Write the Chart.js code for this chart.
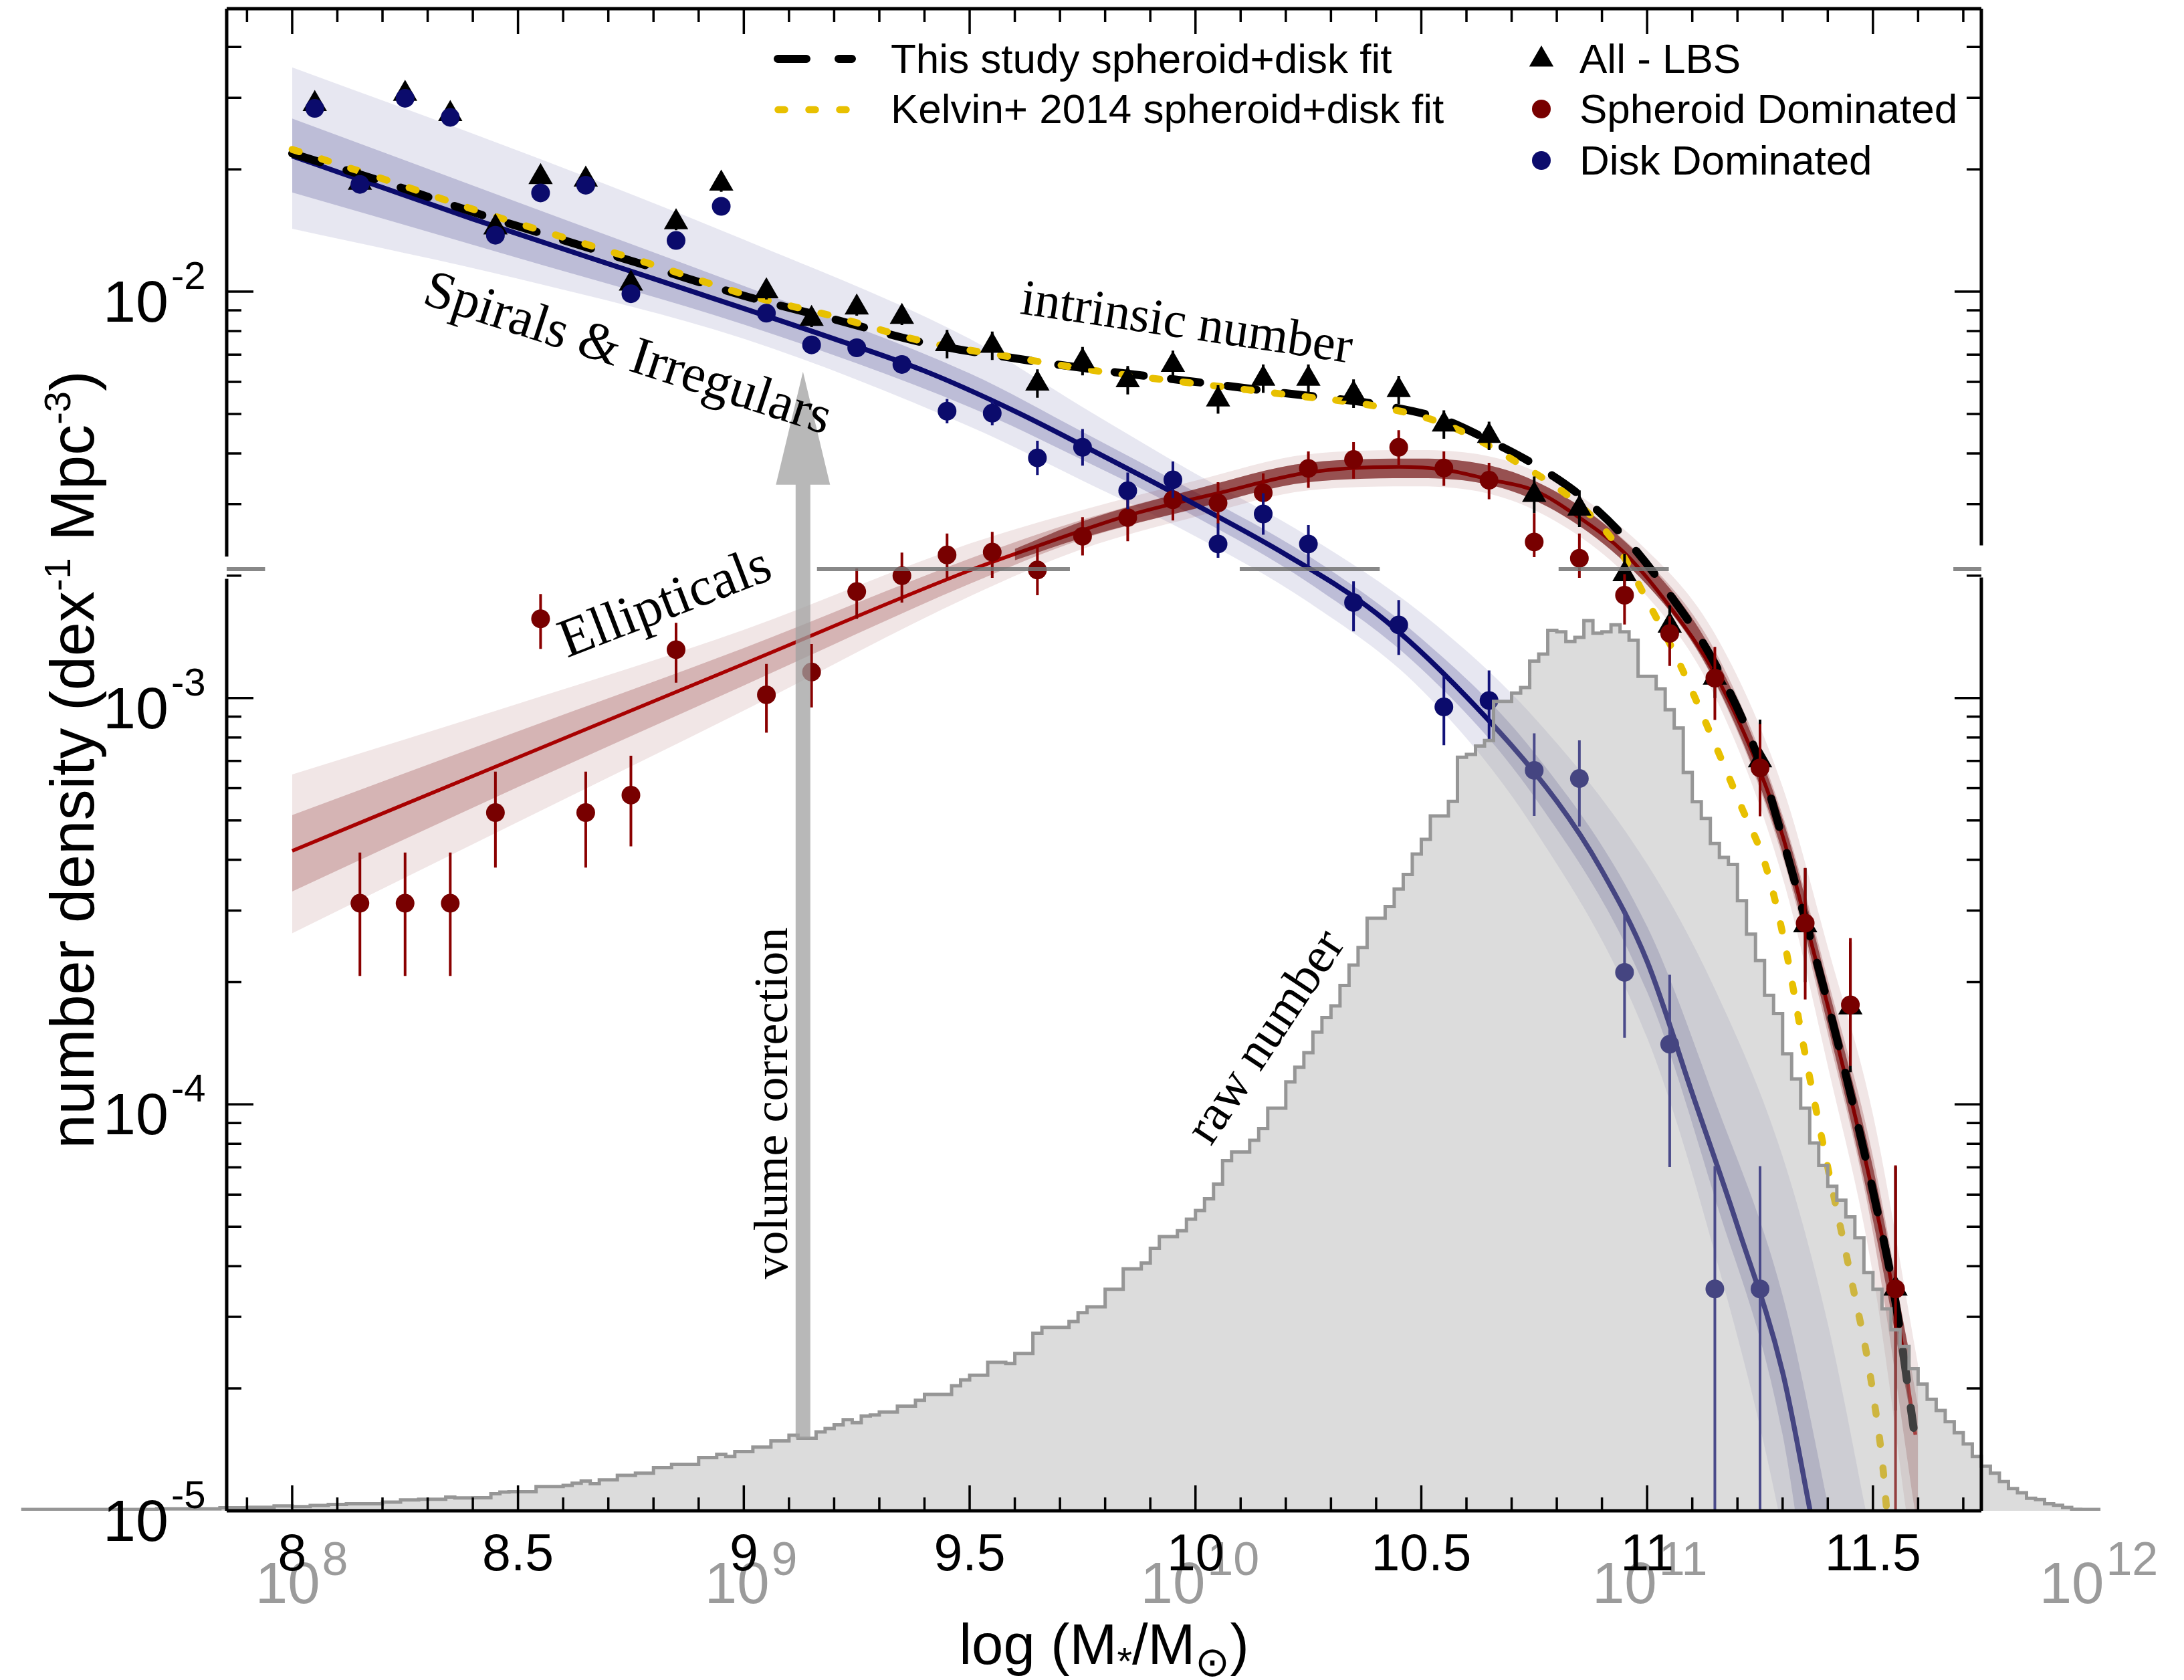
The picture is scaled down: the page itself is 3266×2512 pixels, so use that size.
<!DOCTYPE html>
<html>
<head>
<meta charset="utf-8">
<script src="https://cdn.jsdelivr.net/npm/chart.js@4.4.1/dist/chart.umd.min.js"></script>
<style>
  html, body { margin: 0; padding: 0; background: #fff; }
  canvas { display: block; }
</style>
</head>
<body>
<canvas id="massFn" width="3266" height="2512"></canvas>
<script>
// ---- axes ----
const xTicks = [8, 8.5, 9, 9.5, 10, 10.5, 11, 11.5];
const yTicks = [1e-5, 1e-4, 1e-3, 1e-2];
const yTickExp = ["-5", "-4", "-3", "-2"];
const rawAxisAt = [7.99, 8.985, 9.95, 10.95, 11.94];   // grey 10^n labels of the raw-number panel
const rawAxisExp = ["8", "9", "10", "11", "12"];
const frameMass = [7.855, 11.74];

// ---- measured points, log10 number density ----
const allMass = [8.05, 8.15, 8.25, 8.35, 8.45, 8.55, 8.65, 8.75, 8.85, 8.95, 9.05, 9.15, 9.25, 9.35, 9.45, 9.55, 9.65, 9.75,
  9.85, 9.95, 10.05, 10.15, 10.25, 10.35, 10.45, 10.55, 10.65, 10.75, 10.85, 10.95, 11.05, 11.15, 11.25, 11.35, 11.45, 11.55];
const allLog = [-1.538, -1.732, -1.513, -1.563, -1.842, -1.718, -1.724, -1.980, -1.829, -1.734, -1.999, -2.067, -2.039, -2.062,
  -2.129, -2.133, -2.226, -2.171, -2.218, -2.180, -2.265, -2.214, -2.214, -2.251, -2.242, -2.327, -2.355, -2.500, -2.534,
  -2.695, -2.822, -2.950, -3.153, -3.559, -3.761, -4.453];
const allErr = [0.02, 0.02, 0.02, 0.02, 0.02, 0.02, 0.02, 0.02, 0.02, 0.02, 0.02, 0.02, 0.02, 0.02, 0.035, 0.035, 0.035, 0.035,
  0.035, 0.035, 0.035, 0.035, 0.035, 0.035, 0.035, 0.035, 0.035, 0.045, 0.045, 0.05, 0.05, 0.05, 0.1, 0.14, 0.16, 0.3];

const diskMass = [8.05, 8.15, 8.25, 8.35, 8.45, 8.55, 8.65, 8.75, 8.85, 8.95, 9.05, 9.15, 9.25, 9.35, 9.45, 9.55, 9.65,
  9.75, 9.85, 9.95, 10.05, 10.15, 10.25, 10.35, 10.45, 10.55, 10.65, 10.75, 10.85, 10.95, 11.05, 11.15, 11.25];
const diskLog = [-1.549, -1.736, -1.524, -1.571, -1.861, -1.757, -1.738, -2.005, -1.874, -1.790, -2.053, -2.131, -2.138,
  -2.179, -2.294, -2.299, -2.409, -2.383, -2.490, -2.463, -2.621, -2.547, -2.621, -2.765, -2.820, -3.022, -3.006, -3.178,
  -3.198, -3.675, -3.852, -4.454, -4.454];
const diskErrHi = [0.02, 0.02, 0.02, 0.02, 0.02, 0.02, 0.02, 0.02, 0.02, 0.02, 0.02, 0.02, 0.02, 0.02, 0.03, 0.03, 0.042,
  0.045, 0.045, 0.045, 0.051, 0.051, 0.047, 0.052, 0.061, 0.076, 0.074, 0.091, 0.094, 0.151, 0.171, 0.302, 0.302];
const diskErrLo = [0.02, 0.02, 0.02, 0.02, 0.02, 0.02, 0.02, 0.02, 0.02, 0.02, 0.02, 0.02, 0.02, 0.02, 0.03, 0.03, 0.042,
  0.045, 0.045, 0.045, 0.034, 0.051, 0.057, 0.071, 0.074, 0.094, 0.096, 0.112, 0.118, 0.161, 0.302, 3, 3];

const sphMass = [8.15, 8.25, 8.35, 8.45, 8.55, 8.65, 8.75, 8.85, 9.05, 9.15, 9.25, 9.35, 9.45, 9.55, 9.65, 9.75, 9.85,
  9.95, 10.05, 10.15, 10.25, 10.35, 10.45, 10.55, 10.65, 10.75, 10.85, 10.95, 11.05, 11.15, 11.25, 11.35, 11.45, 11.55];
const sphLog = [-3.505, -3.505, -3.505, -3.282, -2.805, -3.282, -3.239, -2.881, -2.992, -2.936, -2.738, -2.699, -2.648,
  -2.641, -2.685, -2.602, -2.556, -2.512, -2.520, -2.495, -2.435, -2.413, -2.383, -2.434, -2.464, -2.616, -2.656, -2.747,
  -2.841, -2.951, -3.172, -3.554, -3.755, -4.454];
const sphErrHi = [0.125, 0.125, 0.125, 0.101, 0.061, 0.101, 0.097, 0.066, 0.076, 0.069, 0.057, 0.057, 0.053, 0.050, 0.061,
  0.047, 0.058, 0.051, 0.051, 0.048, 0.042, 0.043, 0.042, 0.041, 0.043, 0.071, 0.061, 0.052, 0.042, 0.077, 0.108, 0.136, 0.164, 0.304];
const sphErrLo = [0.179, 0.179, 0.179, 0.135, 0.074, 0.135, 0.126, 0.081, 0.093, 0.087, 0.067, 0.066, 0.060, 0.063, 0.062,
  0.047, 0.058, 0.051, 0.051, 0.048, 0.048, 0.047, 0.043, 0.044, 0.047, 0.037, 0.048, 0.072, 0.080, 0.103, 0.119, 0.188, 0.150, 3];

// ---- fitted functions ----
const diskFitMass = [8.0, 8.4, 8.8, 9.2, 9.4, 9.6, 9.8, 10.0, 10.2, 10.4, 10.6, 10.8, 10.9, 11.0, 11.1, 11.2, 11.3, 11.36, 11.42];
const diskFitLog = [-1.666, -1.821, -1.968, -2.116, -2.195, -2.294, -2.407, -2.524, -2.647, -2.791, -2.997, -3.254, -3.425,
  -3.648, -3.973, -4.299, -4.659, -4.995, -5.35];
const sphFitMass = [8.0, 8.5, 9.0, 9.5, 9.65, 9.85, 10.05, 10.25, 10.45, 10.55, 10.65, 10.75, 10.85, 10.95, 11.05, 11.15,
  11.25, 11.30, 11.35, 11.40, 11.45, 11.50, 11.55, 11.594];
const sphFitLog = [-3.376, -3.146, -2.916, -2.686, -2.626, -2.551, -2.496, -2.445, -2.431, -2.438, -2.462, -2.489, -2.556,
  -2.643, -2.775, -2.940, -3.180, -3.339, -3.545, -3.757, -3.980, -4.220, -4.494, -4.813];
const totalFitMass = [8.0, 8.2, 8.4, 8.6, 8.8, 9.0, 9.2, 9.4, 9.6, 9.8, 10.0, 10.2, 10.4, 10.55, 10.65, 10.75, 10.85, 10.95,
  11.05, 11.15, 11.25, 11.30, 11.35, 11.40, 11.45, 11.50, 11.55, 11.59];
const totalFitLog = [-1.660, -1.729, -1.804, -1.873, -1.941, -2.010, -2.068, -2.126, -2.164, -2.195, -2.222, -2.250, -2.277,
  -2.315, -2.366, -2.425, -2.500, -2.605, -2.745, -2.915, -3.160, -3.346, -3.545, -3.751, -3.973, -4.213, -4.487, -4.796];
const kelvinMass = [8.0, 8.2, 8.4, 8.6, 8.8, 9.0, 9.2, 9.4, 9.6, 9.8, 10.0, 10.2, 10.4, 10.55, 10.65, 10.70, 10.83, 10.93,
  11.00, 11.07, 11.16, 11.21, 11.26, 11.30, 11.35, 11.40, 11.45, 11.50, 11.53, 11.545];
const kelvinLog = [-1.650, -1.722, -1.797, -1.866, -1.934, -2.006, -2.061, -2.123, -2.162, -2.198, -2.226, -2.253, -2.282,
  -2.325, -2.379, -2.412, -2.507, -2.620, -2.760, -2.911, -3.139, -3.271, -3.404, -3.579, -3.877, -4.155, -4.419, -4.710, -4.995, -5.3];

// ---- posterior spread of the fits (envelopes) ----
const diskBandMass = [8.0, 8.5, 9.0, 9.5, 9.75, 10.0, 10.25, 10.5, 10.75, 11.0, 11.15, 11.3, 11.4, 11.5];
const diskOuterHi = [-1.448, -1.653, -1.872, -2.116, -2.284, -2.448, -2.602, -2.791, -3.048, -3.408, -3.716, -4.128, -4.539, -5.087];
const diskOuterLo = [-1.845, -1.968, -2.116, -2.332, -2.465, -2.602, -2.764, -2.979, -3.322, -3.836, -4.367, -5.053, -5.738, -6.081];
const diskInnerHi = [-1.574, -1.780, -1.986, -2.201, -2.345, -2.493, -2.650, -2.853, -3.134, -3.562, -3.990, -4.470, -4.984, -5.567];
const diskInnerLo = [-1.756, -1.917, -2.081, -2.284, -2.414, -2.554, -2.716, -2.928, -3.243, -3.723, -4.230, -4.813, -5.567, -6.081];
const sphBandMass = [8.0, 8.5, 9.0, 9.5, 9.75, 10.0, 10.25, 10.5, 10.75, 11.0, 11.15, 11.3, 11.4, 11.5, 11.6];
const sphOuterHi = [-3.188, -3.014, -2.832, -2.620, -2.537, -2.465, -2.400, -2.390, -2.441, -2.637, -2.842, -3.219, -3.613, -4.025, -4.642];
const sphOuterLo = [-3.579, -3.305, -3.031, -2.750, -2.633, -2.554, -2.489, -2.479, -2.537, -2.750, -2.996, -3.442, -3.905, -4.419, -5.224];
const sphInnerHi = [-3.288, -3.082, -2.877, -2.657, -2.561, -2.486, -2.421, -2.411, -2.465, -2.664, -2.883, -3.288, -3.692, -4.128, -4.744];
const sphInnerLo = [-3.476, -3.219, -2.969, -2.719, -2.609, -2.534, -2.469, -2.459, -2.513, -2.722, -2.962, -3.391, -3.826, -4.316, -5.053];
const sphCoreMass = [9.6, 9.75, 10.0, 10.25, 10.5, 10.75, 11.0, 11.15, 11.3, 11.4, 11.5, 11.58];
const sphCoreHi = [-2.633, -2.565, -2.486, -2.421, -2.411, -2.465, -2.668, -2.897, -3.298, -3.709, -4.155, -4.607];
const sphCoreLo = [-2.661, -2.606, -2.534, -2.469, -2.459, -2.513, -2.722, -2.959, -3.380, -3.805, -4.285, -4.744];

// ---- raw number histogram (0.02 dex bins from 7.40) ----
const histStart = 7.40, histBin = 0.02;
const rawNumber = [
  1, 1, 1, 1, 1,  1, 1, 1, 1, 1,  1, 1, 1, 1, 1,  1.5, 1.5, 1.5, 1.5, 1.5,  1.5, 1.5, 2.2, 2.2, 2.2,
  2.5, 2.5, 2.5, 3.5, 3.5,  3, 3, 3.8, 3.8, 4.6,  4.6, 5, 5, 5, 5,  6.2, 6.2, 7.8, 7.8, 8.3,  8.3, 8.3, 9.9, 9.2, 9.2,
  9.4, 9.4, 12.2, 13.4, 13.7,  13.7, 13.7, 17.4, 17.4, 17.4,  18.2, 19.8, 21.4, 19.5, 22.2,  22.2, 25.4, 25.4, 27, 27,
  31, 31, 33.4, 33.4, 33.4,  38.2, 38.2, 40.6, 39, 42.5,  42.5, 45.7, 45.7, 50.2, 50.2,  54.2, 52.1, 52.1, 56.6, 59,
  61.7, 65.4, 63.3, 68.1, 68.8,  70.9, 70.9, 75.1, 75.1, 79.3,  83.5, 83.5, 83.5, 89.8, 94,  97.3, 97.3, 106.6, 106.6, 105.7,
  112.9, 112.9, 127.5, 131.7, 131.7,  131.7, 135.9, 142.2, 146.4, 146.4,  159, 159, 173.7, 173.7, 177.9,
  188.4, 196.8, 196.8, 201, 209.3,  215.6, 224, 234.5, 251.3, 257.6,  257.6, 266, 274.4, 289, 289,
  307.9, 318.4, 328.9, 343.6, 354.1,  362.5, 377.1, 391.8, 404.4, 425.4,  425.4, 433.8, 446.4, 456.8, 471.5,
  482, 498.8, 498.8, 509.3, 541,  543, 549, 553, 581, 581,  587, 591, 610, 615, 632,  631, 624, 627, 639, 630,
  631, 636, 631, 625, 599,  599, 590, 575, 562, 530,  509, 497, 479, 469, 464,  438, 414, 395, 370, 357,
  328, 310, 289, 264, 248,  233, 223, 211, 196, 171,  159, 145, 130, 118, 102,  91, 80, 72, 64, 56,
  48, 39, 32, 27, 21,  16, 13, 9, 8, 5,  4, 2.4, 1.1, 1, 1
];
const panelTop = 676;                       // top edge of the raw-number panel
const panelSegs = [[7.855, 7.94], [9.162, 9.722], [10.098, 10.408], [10.804, 11.048], [11.678, 11.74]];
const arrowMass = 9.131, arrowBaseLog = -2.475, arrowTipLog = -2.197;

const notes = [
  { text: "Spirals & Irregulars", x: 8.742, logY: -2.157, angle: 18, size: 80 },
  { text: "intrinsic number", x: 9.980, logY: -2.082, angle: 8.5, size: 76 },
  { text: "Ellipticals", x: 8.827, logY: -2.770, angle: -21, size: 82 },
  { text: "volume correction", x: 9.068, logY: -3.997, angle: -90, size: 72 },
  { text: "raw number", x: 10.159, logY: -3.836, angle: -56.4, size: 76 }
];

const NAVY = "#0b0b6c", MAROON = "#780000", YELLOW = "#e8c000";
const sans = '"Liberation Sans", Arial, sans-serif';
const serif = '"Liberation Serif", "Times New Roman", serif';

const toPts = (xs, logs) => xs.map((x, i) => ({ x: x, y: Math.pow(10, logs[i]) }));
function errPts(xs, logs, lo, hi) {
  const pts = [];
  xs.forEach((x, i) => {
    pts.push({ x: x, y: Math.pow(10, logs[i] - lo[i]) }, { x: x, y: Math.pow(10, logs[i] + hi[i]) }, { x: x, y: null });
  });
  return pts;
}
function band(xs, hi, lo, color, order) {
  const base = { type: "line", borderColor: "transparent", borderWidth: 0, pointRadius: 0, cubicInterpolationMode: "monotone", order: order };
  return [
    Object.assign({}, base, { data: toPts(xs, hi), backgroundColor: color, fill: "+1" }),
    Object.assign({}, base, { data: toPts(xs, lo), fill: false })
  ];
}
function curve(xs, logs, color, width, order, extra) {
  return Object.assign({ type: "line", data: toPts(xs, logs), borderColor: color, borderWidth: width, pointRadius: 0,
    fill: false, cubicInterpolationMode: "monotone", order: order }, extra || {});
}
function bars(pts, color, order) {
  return { type: "line", data: pts, borderColor: color, borderWidth: 4, pointRadius: 0, spanGaps: false, fill: false, order: order };
}
function marks(xs, logs, style, radius, color, order) {
  return { type: "line", data: toPts(xs, logs), showLine: false, pointStyle: style, pointRadius: radius, pointHoverRadius: radius,
    pointBackgroundColor: color, pointBorderWidth: 0, borderColor: color, order: order };
}

const histPts = rawNumber.map((v, i) => ({ x: +(histStart + i * histBin).toFixed(2), y: v }));
histPts.push({ x: +(histStart + rawNumber.length * histBin).toFixed(2), y: 0 });

const datasets = [].concat(
  band(diskBandMass, diskOuterHi, diskOuterLo, "rgba(60,60,140,0.12)", 20),
  band(diskBandMass, diskInnerHi, diskInnerLo, "rgba(40,40,125,0.22)", 19),
  [curve(sphFitMass, sphFitLog, "#c00000", 5.5, 18)],
  band(sphBandMass, sphOuterHi, sphOuterLo, "rgba(120,10,10,0.10)", 17),
  band(sphBandMass, sphInnerHi, sphInnerLo, "rgba(115,5,5,0.22)", 16),
  band(sphCoreMass, sphCoreHi, sphCoreLo, "rgba(100,0,0,0.55)", 15),
  [
    curve(diskFitMass, diskFitLog, NAVY, 7.5, 14),
    curve(totalFitMass, totalFitLog, "#000", 12, 13, { borderDash: [44, 41], borderCapStyle: "round" }),
    curve(kelvinMass, kelvinLog, YELLOW, 10.5, 12, { borderDash: [11, 35], borderCapStyle: "round" }),
    bars(errPts(allMass, allLog, allErr, allErr), "#000", 11),
    marks(allMass, allLog, "triangle", 21, "#000", 10),
    bars(errPts(sphMass, sphLog, sphErrLo, sphErrHi), "#8a0000", 9),
    marks(sphMass, sphLog, "circle", 14, MAROON, 8),
    bars(errPts(diskMass, diskLog, diskErrLo, diskErrHi), "#12127a", 7),
    marks(diskMass, diskLog, "circle", 14, NAVY, 6),
    { type: "line", data: histPts, yAxisID: "yRaw", stepped: true, fill: "origin", borderColor: "rgb(150,150,150)",
      backgroundColor: "rgba(164,164,164,0.385)", borderWidth: 5, borderJoinStyle: "miter", pointRadius: 0, order: 1 }
  ]
);

// grey 10^n labels of the raw-number panel, drawn under the black tick labels
const rawAxisPlugin = {
  id: "rawAxis",
  beforeDraw(chart) {
    const ctx = chart.ctx, xs = chart.scales.x;
    ctx.save();
    ctx.fillStyle = "#9b9b9b";
    ctx.textBaseline = "alphabetic";
    rawAxisAt.forEach((v, i) => {
      const px = xs.getPixelForValue(v);
      ctx.font = "87px " + sans;
      ctx.textAlign = "center";
      ctx.fillText("10", px, 2397);
      const w = ctx.measureText("10").width;
      ctx.font = "70px " + sans;
      ctx.textAlign = "left";
      ctx.fillText(rawAxisExp[i], px + w / 2 + 3, 2355);
    });
    ctx.restore();
  }
};

const framePlugin = {
  id: "frame",
  afterDatasetsDraw(chart) {
    const ctx = chart.ctx, xs = chart.scales.x, ys = chart.scales.y, raw = chart.scales.yRaw;
    const L = xs.getPixelForValue(frameMass[0]), R = xs.getPixelForValue(frameMass[1]);
    const T = ys.getPixelForValue(ys.max), B = ys.getPixelForValue(ys.min);
    ctx.save();
    // top edge of the raw-number panel
    ctx.strokeStyle = "rgba(115,115,115,0.85)";
    ctx.lineWidth = 6;
    const pTop = raw.getPixelForValue(panelTop);
    panelSegs.forEach(s => {
      ctx.beginPath();
      ctx.moveTo(xs.getPixelForValue(s[0]), pTop);
      ctx.lineTo(xs.getPixelForValue(s[1]), pTop);
      ctx.stroke();
    });
    // box
    ctx.strokeStyle = "#000";
    ctx.lineWidth = 5;
    ctx.lineCap = "butt";
    ctx.beginPath();
    ctx.moveTo(L, T); ctx.lineTo(R, T);
    ctx.moveTo(L, B); ctx.lineTo(R, B);
    ctx.moveTo(L, T); ctx.lineTo(L, raw.getPixelForValue(panelTop + 9));
    ctx.moveTo(L, raw.getPixelForValue(panelTop - 7)); ctx.lineTo(L, B);
    ctx.moveTo(R, T); ctx.lineTo(R, raw.getPixelForValue(panelTop + 17));
    ctx.moveTo(R, raw.getPixelForValue(panelTop - 6)); ctx.lineTo(R, B);
    ctx.stroke();
    // inward ticks
    ctx.lineWidth = 3.5;
    ctx.beginPath();
    for (let k = 79; k <= 117; k++) {
      const px = xs.getPixelForValue(k / 10);
      const len = k % 5 === 0 ? 38 : 20;
      ctx.moveTo(px, B); ctx.lineTo(px, B - len);
      ctx.moveTo(px, T); ctx.lineTo(px, T + len);
    }
    for (let e = -5; e <= -2; e++) {
      for (let k = 1; k <= 9; k++) {
        const v = k * Math.pow(10, e);
        if (v > ys.max) break;
        const py = ys.getPixelForValue(v);
        const len = k === 1 ? 40 : 22;
        ctx.moveTo(L, py); ctx.lineTo(L + len, py);
        ctx.moveTo(R, py); ctx.lineTo(R - len, py);
      }
    }
    ctx.stroke();
    ctx.restore();
  }
};

const notesPlugin = {
  id: "notes",
  afterDatasetsDraw(chart) {
    const ctx = chart.ctx, xs = chart.scales.x, ys = chart.scales.y, raw = chart.scales.yRaw;
    const L = xs.getPixelForValue(frameMass[0]), R = xs.getPixelForValue(frameMass[1]);
    const T = ys.getPixelForValue(ys.max), B = ys.getPixelForValue(ys.min);
    ctx.save();

    // volume correction arrow, from the histogram top up to the intrinsic curves
    const ax = xs.getPixelForValue(arrowMass);
    const bin = Math.floor((arrowMass - histStart) / histBin);
    const aBottom = raw.getPixelForValue(rawNumber[bin]);
    const aBase = ys.getPixelForValue(Math.pow(10, arrowBaseLog));
    const aTip = ys.getPixelForValue(Math.pow(10, arrowTipLog));
    ctx.fillStyle = "rgba(160,160,160,0.75)";
    ctx.beginPath();
    ctx.moveTo(ax - 11, aBottom); ctx.lineTo(ax - 11, aBase); ctx.lineTo(ax - 40.5, aBase);
    ctx.lineTo(ax, aTip); ctx.lineTo(ax + 40.5, aBase); ctx.lineTo(ax + 11, aBase); ctx.lineTo(ax + 11, aBottom);
    ctx.closePath();
    ctx.fill();

    // serif annotations
    ctx.fillStyle = "#000";
    ctx.textAlign = "center";
    ctx.textBaseline = "middle";
    notes.forEach(n => {
      ctx.save();
      ctx.translate(xs.getPixelForValue(n.x), ys.getPixelForValue(Math.pow(10, n.logY)));
      ctx.rotate(n.angle * Math.PI / 180);
      ctx.font = n.size + "px " + serif;
      ctx.fillText(n.text, 0, 0);
      ctx.restore();
    });

    // y tick labels 10^n
    ctx.textBaseline = "alphabetic";
    yTicks.forEach((v, i) => {
      const py = ys.getPixelForValue(v);
      ctx.font = "88px " + sans;
      ctx.textAlign = "right";
      ctx.fillText("10", 252, py + 45);
      ctx.font = "58px " + sans;
      ctx.textAlign = "left";
      ctx.fillText(yTickExp[i], 256, py - 4);
    });

    // axis titles with sub/superscripts
    const drawRun = (parts, x0, y0) => {
      let w = 0;
      parts.forEach(p => { ctx.font = p[1] + "px " + sans; w += ctx.measureText(p[0]).width; });
      let x = x0 - w / 2;
      ctx.textAlign = "left";
      parts.forEach(p => {
        ctx.font = p[1] + "px " + sans;
        ctx.fillText(p[0], x, y0 + p[2]);
        x += ctx.measureText(p[0]).width;
      });
    };
    drawRun([["log (M", 85, 0], ["*", 58, 16], ["/M", 85, 0], ["\u2299", 62, 18], [")", 85, 0]], (L + R) / 2, 2488);
    ctx.save();
    ctx.translate(140, (T + B) / 2);
    ctx.rotate(-Math.PI / 2);
    drawRun([["number density (dex", 92, 0], ["-1", 56, -35], [" Mpc", 92, 0], ["-3", 56, -35], [")", 92, 0]], 0, 0);
    ctx.restore();

    // legend
    ctx.lineCap = "round";
    ctx.strokeStyle = "#000"; ctx.lineWidth = 12; ctx.setLineDash([43, 48]);
    ctx.beginPath(); ctx.moveTo(1163, 88); ctx.lineTo(1274, 88); ctx.stroke();
    ctx.strokeStyle = YELLOW; ctx.lineWidth = 10.5; ctx.setLineDash([10, 36]);
    ctx.beginPath(); ctx.moveTo(1163.5, 164); ctx.lineTo(1265.5, 164); ctx.stroke();
    ctx.setLineDash([]);
    ctx.font = "62px " + sans;
    ctx.textAlign = "left";
    ctx.fillStyle = "#000";
    ctx.fillText("This study spheroid+disk fit", 1332, 109);
    ctx.fillText("Kelvin+ 2014 spheroid+disk fit", 1332, 184);
    ctx.fillText("All - LBS", 2362, 109);
    ctx.fillText("Spheroid Dominated", 2362, 184);
    ctx.fillText("Disk Dominated", 2362, 261);
    const r = 21, cx = 2305, cy = 89;
    ctx.beginPath();
    for (let j = 0; j < 3; j++) {
      const a = j * 2 * Math.PI / 3;
      const px = cx + Math.sin(a) * r, py = cy - Math.cos(a) * r;
      if (j === 0) ctx.moveTo(px, py); else ctx.lineTo(px, py);
    }
    ctx.closePath(); ctx.fill();
    ctx.fillStyle = MAROON;
    ctx.beginPath(); ctx.arc(2305, 163, 14, 0, 2 * Math.PI); ctx.fill();
    ctx.fillStyle = NAVY;
    ctx.beginPath(); ctx.arc(2305, 240, 14, 0, 2 * Math.PI); ctx.fill();
    ctx.restore();
  }
};

new Chart(document.getElementById("massFn").getContext("2d"), {
  type: "line",
  data: { datasets: datasets },
  options: {
    responsive: false,
    animation: false,
    devicePixelRatio: 1,
    events: [],
    layout: { autoPadding: false, padding: { top: 13, left: 0, right: 0, bottom: 0 } },
    plugins: { legend: { display: false }, tooltip: { enabled: false }, colors: { enabled: false } },
    scales: {
      x: {
        type: "linear",
        min: 7.3531,
        max: 12.1887,
        grid: { display: false, drawTicks: false },
        border: { display: false },
        afterBuildTicks: s => { s.ticks = xTicks.map(v => ({ value: v })); },
        afterFit: s => { s.height = 253; },
        ticks: { autoSkip: false, maxRotation: 0, minRotation: 0, padding: 22, color: "#000",
          font: { size: 77, family: sans }, callback: v => String(v) }
      },
      y: { type: "logarithmic", min: 1e-5, max: 0.0497, display: false },
      yRaw: { type: "linear", axis: "y", position: "right", min: 0, max: 1078.3, display: false }
    }
  },
  plugins: [rawAxisPlugin, framePlugin, notesPlugin]
});
</script>
</body>
</html>
